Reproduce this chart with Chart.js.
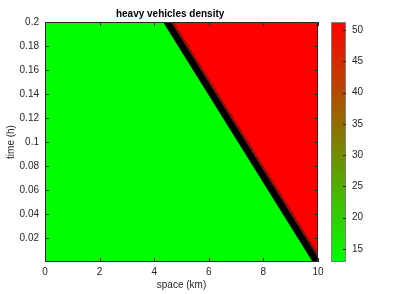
<!DOCTYPE html>
<html><head><meta charset="utf-8">
<script src="https://cdn.jsdelivr.net/npm/chart.js@4.4.0/dist/chart.umd.min.js"></script>
<style>
html,body{margin:0;padding:0;background:#fff;}
#wrap{position:relative;width:399px;height:294px;}
#main{position:absolute;left:0;top:0;}
#cbar{position:absolute;left:320px;top:0;}
</style>
</head><body>
<div id="wrap"><canvas id="main" width="399" height="294"></canvas><canvas id="cbar" width="79" height="294"></canvas></div>
<script>
// ---- data ----
const chartTitle = 'heavy vehicles density';
const xLabel = 'space (km)';
const yLabel = 'time (h)';
const spaceRange = [0, 10];
const timeRange = [0, 0.2];
const densityRange = [12.9, 51.3];
const spaceTicks = [0, 2, 4, 6, 8, 10];
const timeTicks = [0.02, 0.04, 0.06, 0.08, 0.1, 0.12, 0.14, 0.16, 0.18, 0.2];
const colorTicks = [15, 20, 25, 30, 35, 40, 45, 50];
const upstreamDensity = 13;     // free-flow region (left)
const jamDensity = 51.3;        // congested region (right)
const contourLevels = [13, 18, 23, 28, 33, 38, 43, 48, 51];
const frontAtTop   = [4.36, 4.40, 4.43, 4.47, 4.50, 4.54, 4.58, 4.63, 4.69]; // km at t = 0.2 h
const frontAtStart = [9.84, 9.88, 9.91, 9.95, 9.98, 10.02, 10.06, 10.11, 10.17]; // km at t = 0 h

// ---- helpers ----
const FONT = "'Liberation Sans', Arial, Helvetica, sans-serif";
Chart.defaults.font.family = FONT;
function cmap(v){
  let t = (v - densityRange[0]) / (densityRange[1] - densityRange[0]);
  t = Math.max(0, Math.min(1, t));
  return 'rgb(' + Math.round(255*t) + ',' + Math.round(255*(1-t)) + ',0)';
}
const T0 = timeRange[0], T1 = timeRange[1];
const fillDs = (pts, color) => ({data: pts, fill: 'shape', backgroundColor: color, borderColor: 'rgba(0,0,0,0)', borderWidth: 0, pointRadius: 0, showLine: true, order: 2});

const datasets = [];
datasets.push(fillDs([{x: spaceRange[0], y: T0}, {x: spaceRange[0], y: T1}, {x: frontAtTop[0], y: T1}, {x: frontAtStart[0], y: T0}], cmap(upstreamDensity)));
for (let i = 0; i < contourLevels.length - 1; i++) {
  datasets.push(fillDs([{x: frontAtTop[i], y: T1}, {x: frontAtStart[i], y: T0}, {x: frontAtStart[i+1], y: T0}, {x: frontAtTop[i+1], y: T1}], cmap((contourLevels[i] + contourLevels[i+1]) / 2)));
}
const last = contourLevels.length - 1;
datasets.push(fillDs([{x: frontAtTop[last], y: T1}, {x: spaceRange[1], y: T1}, {x: spaceRange[1], y: T0}, {x: frontAtStart[last], y: T0}], cmap(jamDensity)));
for (let i = 0; i < contourLevels.length; i++) {
  datasets.push({data: [{x: frontAtTop[i], y: T1}, {x: frontAtStart[i], y: T0}], fill: false, borderColor: '#000', borderWidth: i < last - 1 ? 1.6 : 0.7, pointRadius: 0, showLine: true, order: 1});
}

const AXC = '#262626';
const framePlugin = {
  id: 'frame',
  afterDatasetsDraw(chart) {
    const {ctx, chartArea: a, scales} = chart;
    ctx.save();
    ctx.strokeStyle = AXC; ctx.lineWidth = 1;
    ctx.strokeRect(a.left + 0.5, a.top + 0.5, a.right - a.left - 1, a.bottom - a.top - 1);
    ctx.beginPath();
    const L = 4;
    spaceTicks.forEach(v => {
      const px = Math.round(scales.x.getPixelForValue(v)) + 0.5;
      ctx.moveTo(px, a.bottom); ctx.lineTo(px, a.bottom - L);
      ctx.moveTo(px, a.top); ctx.lineTo(px, a.top + L);
    });
    timeTicks.forEach(v => {
      const py = Math.round(scales.y.getPixelForValue(v)) + 0.5;
      ctx.moveTo(a.left, py); ctx.lineTo(a.left + L, py);
      ctx.moveTo(a.right, py); ctx.lineTo(a.right - L, py);
    });
    ctx.stroke();
    ctx.restore();
  }
};

new Chart(document.getElementById('main'), {
  type: 'scatter',
  data: {datasets},
  options: {
    responsive: false, animation: false,
    layout: {padding: {left: 0, right: 81, top: 0, bottom: 0}},
    plugins: {
      legend: {display: false}, tooltip: {enabled: false},
      title: {display: true, text: '        ' + chartTitle, color: '#000', font: {size: 10, weight: 'bold', family: FONT}, padding: {top: 8, bottom: 2}}
    },
    scales: {
      x: {type: 'linear', min: spaceRange[0], max: spaceRange[1],
        afterBuildTicks: s => { s.ticks = spaceTicks.map(v => ({value: v})); },
        afterFit: s => { s.height = 32; },
        grid: {display: false, drawTicks: false}, border: {display: false},
        ticks: {padding: 4, color: AXC, font: {size: 10}, maxRotation: 0, autoSkip: false, callback: v => String(v)},
        title: {display: true, text: xLabel, color: AXC, font: {size: 10}, padding: {top: 0, bottom: 3}}
      },
      y: {type: 'linear', min: timeRange[0], max: timeRange[1],
        afterBuildTicks: s => { s.ticks = timeTicks.map(v => ({value: v})); },
        afterFit: s => { s.width = 45; },
        grid: {display: false, drawTicks: false}, border: {display: false},
        ticks: {padding: 6, color: AXC, font: {size: 10}, autoSkip: false, callback: v => String(v)},
        title: {display: true, text: yLabel, color: AXC, font: {size: 10}, padding: {top: 5, bottom: 0}}
      }
    }
  },
  plugins: [framePlugin]
});

// ---- colorbar ----
const cbarFrame = {
  id: 'cbarFrame',
  afterDatasetsDraw(chart) {
    const {ctx, chartArea: a, scales} = chart;
    ctx.save();
    ctx.strokeStyle = '#808080'; ctx.lineWidth = 1;
    ctx.strokeRect(a.left + 0.5, a.top + 0.5, a.right - a.left - 1, a.bottom - a.top - 1);
    ctx.strokeStyle = AXC;
    ctx.beginPath();
    colorTicks.forEach(v => {
      const py = Math.round(scales.y.getPixelForValue(v)) + 0.5;
      ctx.moveTo(a.right, py); ctx.lineTo(a.right - 3, py);
    });
    ctx.stroke();
    ctx.restore();
  }
};
new Chart(document.getElementById('cbar'), {
  type: 'bar',
  data: {labels: [''], datasets: [{
    data: [densityRange],
    barPercentage: 1, categoryPercentage: 1, borderWidth: 0,
    backgroundColor: (c) => {
      const ch = c.chart; if (!ch.chartArea) return 'rgba(0,0,0,0)';
      const ys = ch.scales.y;
      const g = ch.ctx.createLinearGradient(0, ys.getPixelForValue(densityRange[0]), 0, ys.getPixelForValue(densityRange[1]));
      g.addColorStop(0, cmap(densityRange[0])); g.addColorStop(1, cmap(densityRange[1]));
      return g;
    }
  }]},
  options: {
    responsive: false, animation: false,
    layout: {padding: {left: 11, right: 0, top: 22, bottom: 32}},
    plugins: {legend: {display: false}, tooltip: {enabled: false}},
    scales: {
      x: {display: false},
      y: {position: 'right', min: densityRange[0], max: densityRange[1],
        afterBuildTicks: s => { s.ticks = colorTicks.map(v => ({value: v})); },
        afterFit: s => { s.width = 53; },
        grid: {display: false, drawTicks: false}, border: {display: false},
        ticks: {padding: 6, color: AXC, font: {size: 10}, autoSkip: false}
      }
    }
  },
  plugins: [cbarFrame]
});
</script>
</body></html>
